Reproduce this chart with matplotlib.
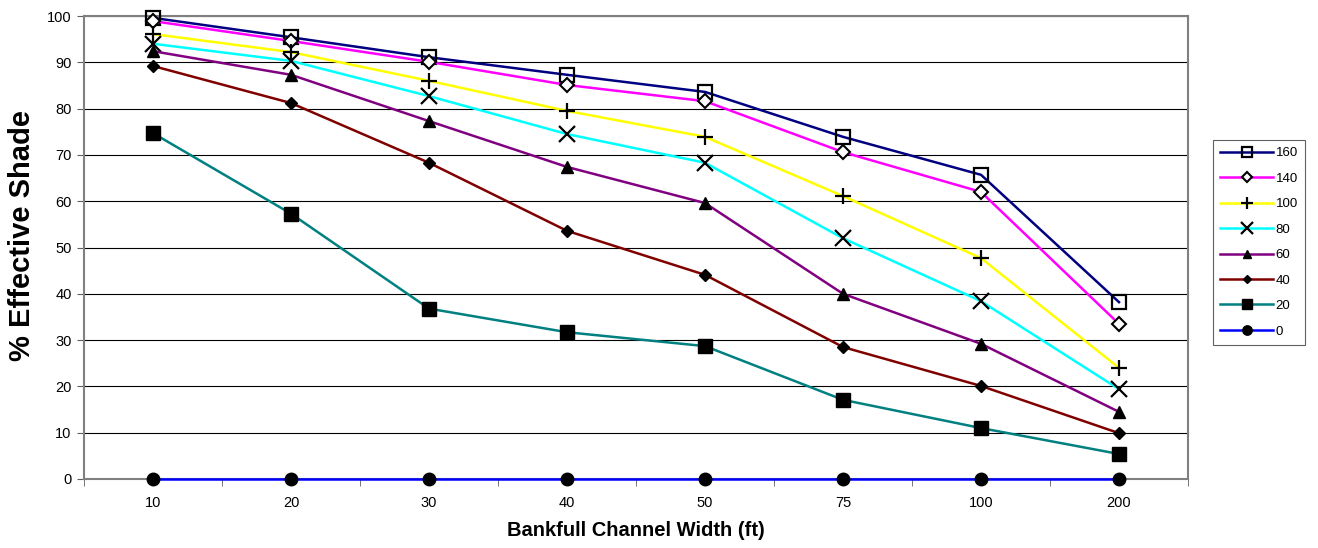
import matplotlib
matplotlib.use("Agg")
import matplotlib.pyplot as plt
import numpy as np

plt.rcParams["font.family"] = ["Liberation Sans", "DejaVu Sans"]

categories = ["10", "20", "30", "40", "50", "75", "100", "200"]
s160 = [99.6, 95.4, 91.1, 87.3, 83.6, 73.9, 65.7, 38.2]
s140 = [98.9, 94.6, 90.1, 85.1, 81.6, 70.6, 62.0, 33.5]
s100 = [96.1, 92.2, 86.0, 79.5, 73.9, 61.1, 47.7, 24.0]
s80 = [94.0, 90.3, 82.7, 74.5, 68.3, 52.0, 38.4, 19.4]
s60 = [92.4, 87.3, 77.3, 67.4, 59.6, 40.0, 29.2, 14.5]
s40 = [89.2, 81.2, 68.3, 53.6, 44.1, 28.5, 20.1, 9.9]
s20 = [74.7, 57.3, 36.8, 31.7, 28.7, 17.1, 11.0, 5.4]
s0 = [0, 0, 0, 0, 0, 0, 0, 0]
labels = ["160", "140", "100", "80", "60", "40", "20", "0"]

series = [s160, s140, s100, s80, s60, s40, s20, s0]
colors = ["#000080", "#FF00FF", "#FFFF00", "#00FFFF", "#800080", "#800000", "#008080", "#0000FF"]
markers = [
    dict(marker="s", ms=10, mfc="none", mec="black", mew=1.6),
    dict(marker="D", ms=7, mfc="white", mec="black", mew=1.5),
    dict(marker="+", ms=12, mec="black", mew=1.6),
    dict(marker="x", ms=11, mec="black", mew=1.6),
    dict(marker="^", ms=8, mfc="black", mec="black"),
    dict(marker="D", ms=6, mfc="black", mec="black"),
    dict(marker="s", ms=10, mfc="black", mec="black"),
    dict(marker="o", ms=9, mfc="black", mec="black"),
]

fig = plt.figure(figsize=(13.18, 5.48), dpi=100)
ax = fig.add_axes([84/1318, 1 - 479/548, (1188-84)/1318, (479-16)/548])

x = np.arange(len(categories))
for vals, lab, col, mk in zip(series, labels, colors, markers):
    ax.plot(x, vals, color=col, lw=1.8, label=lab, zorder=3, clip_on=False, **mk)

ax.set_xlim(-0.5, len(categories) - 0.5)
ax.set_ylim(0, 100)
ax.set_yticks(np.arange(0, 101, 10))
ax.set_xticks(x)
ax.set_xticklabels(categories, fontsize=10.5)
ax.set_xticks(np.arange(-0.5, len(categories), 1), minor=True)
ax.tick_params(axis="x", which="major", length=0, pad=12)
ax.tick_params(axis="x", which="minor", length=5, direction="out", color="#606060")
ax.tick_params(axis="y", length=5, direction="out", color="#606060", labelsize=10.5, pad=4)
ax.yaxis.grid(True, color="black", lw=0.8)
ax.set_axisbelow(True)
for side in ["top", "right", "left", "bottom"]:
    ax.spines[side].set_color("#808080")
    ax.spines[side].set_linewidth(1.5)
    ax.spines[side].set_zorder(1)

ax.set_xlabel("Bankfull Channel Width (ft)", fontsize=14.5, fontweight="bold", labelpad=8)
ax.set_ylabel("% Effective Shade", fontsize=21, fontweight="bold", va="center")
ax.yaxis.set_label_coords(-0.056, 0.525)

leg = fig.legend(loc="upper left", bbox_to_anchor=(1213/1318, 1 - 140/548), fontsize=9.5,
                 frameon=True, fancybox=False, edgecolor="#606060", framealpha=1,
                 handlelength=4.0, labelspacing=1.0, borderpad=0.55, handletextpad=0.2,
                 borderaxespad=0, markerscale=0.75)
leg.get_frame().set_linewidth(0.8)

fig.savefig("out.png", dpi=100)
